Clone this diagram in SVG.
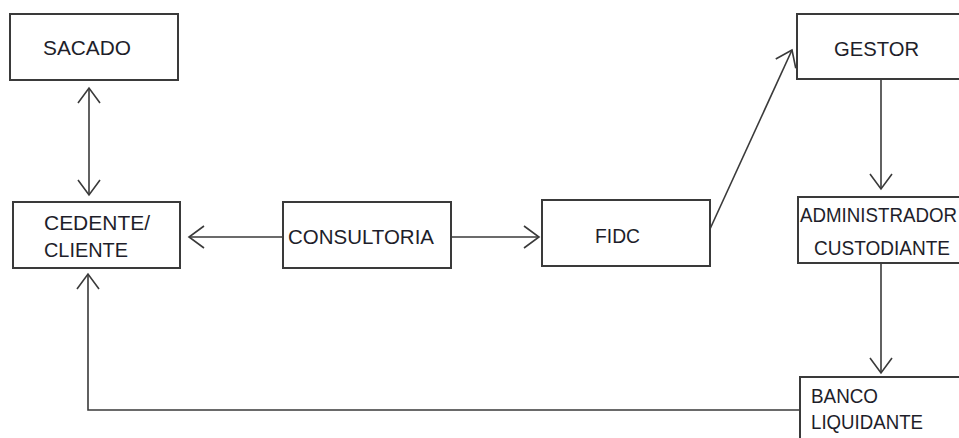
<svg xmlns="http://www.w3.org/2000/svg" width="959" height="438" viewBox="0 0 959 438">
<style>
  .box { fill: #ffffff; stroke: #3a3a3a; stroke-width: 2; }
  .lbl { font-family: "Liberation Sans", Arial, sans-serif; font-size: 21px; fill: #1e1e2a; }
  .edge { fill: none; stroke: #3a3a3a; stroke-width: 1.6; }
</style>
<defs>
  <marker id="arr" markerUnits="userSpaceOnUse" viewBox="-17 -13 19 26" refX="0" refY="0" markerWidth="19" markerHeight="26" orient="auto-start-reverse">
    <path d="M-15,-11 L0,0 L-15,11" fill="none" stroke="#3a3a3a" stroke-width="1.6"/>
  </marker>
</defs>
<rect width="959" height="438" fill="#ffffff"/>
<g id="connectors">
  <line class="edge" x1="89" y1="88" x2="89" y2="195" marker-start="url(#arr)" marker-end="url(#arr)"/>
  <line class="edge" x1="283" y1="237" x2="189" y2="237" marker-end="url(#arr)"/>
  <line class="edge" x1="451" y1="237" x2="539" y2="237" marker-end="url(#arr)"/>
  <line class="edge" x1="710" y1="229" x2="792" y2="50" marker-end="url(#arr)"/>
  <line class="edge" x1="881" y1="79" x2="881" y2="189" marker-end="url(#arr)"/>
  <line class="edge" x1="881" y1="263" x2="881" y2="373" marker-end="url(#arr)"/>
  <polyline class="edge" points="800,410 88,410 88,274" marker-end="url(#arr)"/>
</g>
<g id="sacado">
  <rect class="box" x="10" y="14" width="168" height="66"/>
  <text class="lbl" x="43" y="55" textLength="88" lengthAdjust="spacingAndGlyphs">SACADO</text>
</g>
<g id="cedente">
  <rect class="box" x="13" y="202" width="167" height="66"/>
  <text class="lbl" x="44" y="230" textLength="106" lengthAdjust="spacingAndGlyphs">CEDENTE/</text>
  <text class="lbl" x="44" y="257" textLength="84" lengthAdjust="spacingAndGlyphs">CLIENTE</text>
</g>
<g id="consultoria">
  <rect class="box" x="283" y="202" width="168" height="66"/>
  <text class="lbl" x="288" y="244" textLength="146" lengthAdjust="spacingAndGlyphs">CONSULTORIA</text>
</g>
<g id="fidc">
  <rect class="box" x="542" y="200" width="168" height="66"/>
  <text class="lbl" x="595" y="243" textLength="45" lengthAdjust="spacingAndGlyphs">FIDC</text>
</g>
<g id="gestor">
  <rect class="box" x="797" y="14" width="175" height="65"/>
  <text class="lbl" x="834" y="56" textLength="85" lengthAdjust="spacingAndGlyphs">GESTOR</text>
</g>
<g id="administrador">
  <rect class="box" x="798" y="197" width="175" height="66"/>
  <text class="lbl" x="800" y="222" textLength="157" lengthAdjust="spacingAndGlyphs">ADMINISTRADOR</text>
  <text class="lbl" x="814" y="255" textLength="136" lengthAdjust="spacingAndGlyphs">CUSTODIANTE</text>
</g>
<g id="banco">
  <rect class="box" x="800" y="377" width="175" height="80"/>
  <text class="lbl" x="811" y="403" font-size="18" textLength="67" lengthAdjust="spacingAndGlyphs">BANCO</text>
  <text class="lbl" x="811" y="429" font-size="18" textLength="112" lengthAdjust="spacingAndGlyphs">LIQUIDANTE</text>
</g>
</svg>
